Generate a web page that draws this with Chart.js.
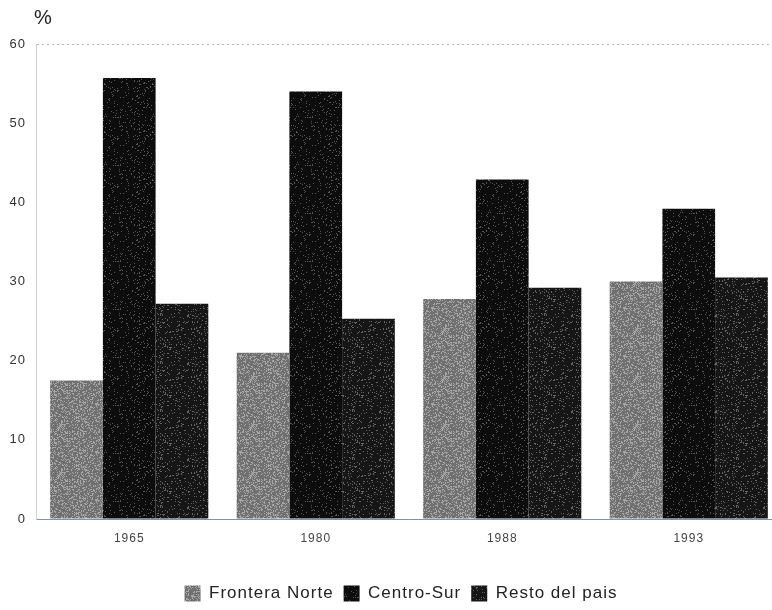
<!DOCTYPE html>
<html>
<head>
<meta charset="utf-8">
<script src="https://cdn.jsdelivr.net/npm/chart.js@4"></script>
<style>
  html, body { margin: 0; padding: 0; background: #fff; overflow: hidden; }
  #wrap { position: relative; width: 782px; height: 610px; }
</style>
</head>
<body>
<div id="wrap"><canvas id="chart"></canvas></div>
<script>
// Data
const years = ['1965', '1980', '1988', '1993'];
const fronteraNorte = [17.5, 21.0, 27.8, 30.0];
const centroSur = [55.7, 54.0, 42.9, 39.2];
const restoPais = [27.2, 25.3, 29.2, 30.5];
const seriesNames = ['Frontera Norte', 'Centro-Sur', 'Resto del pais'];
const yTicks = [0, 10, 20, 30, 40, 50, 60];

// Speckled fill like the photocopied original (seeded, so it looks the same every time)
function speckle(base, dot, density, seed) {
    const c = document.createElement('canvas');
    c.width = 48; c.height = 48;
    const g = c.getContext('2d');
    g.fillStyle = base;
    g.fillRect(0, 0, 48, 48);
    let s = seed;
    const next = () => { s = (s * 1103515245 + 12345) % 2147483648; return s / 2147483648; };
    g.fillStyle = dot;
    for (let i = 0; i < 48 * 48 * density; i++) {
        g.fillRect(Math.floor(next() * 48), Math.floor(next() * 48), 1, 1);
    }
    return g.createPattern(c, 'repeat');
}

const fillNorte = speckle('#707070', '#a5a5a5', 0.35, 7);
const fillCentro = speckle('#0d0d0d', '#555555', 0.08, 11);
const fillResto = speckle('#161616', '#626262', 0.12, 23);

// slightly spaced lettering, as in the typewritten original
const spacing = {
    id: 'spacing',
    beforeUpdate(chart) { chart.ctx.letterSpacing = '1px'; },
    beforeLayout(chart) { chart.ctx.letterSpacing = '1px'; },
    beforeDraw(chart) { chart.ctx.letterSpacing = '1px'; },
    // the legend sits a little right of the canvas centre in the original
    afterLayout(chart) {
        chart.legend.left += 10;
        chart.legend.right += 10;
        chart.legend.top += 2;
        chart.legend.bottom += 2;
    }
};

// "%" label above the y axis
const percentLabel = {
    id: 'percentLabel',
    afterDraw(chart) {
        const ctx = chart.ctx;
        ctx.save();
        ctx.letterSpacing = '0px';
        ctx.font = '20px "Liberation Sans", Arial, sans-serif';
        ctx.fillStyle = '#222';
        ctx.textBaseline = 'middle';
        ctx.fillText('%', 34, 18);
        ctx.restore();
    }
};

new Chart(document.getElementById('chart'), {
    type: 'bar',
    data: {
        labels: years,
        datasets: [{
            label: seriesNames[0],
            data: fronteraNorte,
            backgroundColor: fillNorte,
            borderWidth: 0
        }, {
            label: seriesNames[1],
            data: centroSur,
            backgroundColor: fillCentro,
            borderWidth: 0
        }, {
            label: seriesNames[2],
            data: restoPais,
            backgroundColor: fillResto,
            borderWidth: 0
        }]
    },
    options: {
        responsive: true,
        maintainAspectRatio: false,
        animation: false,
        layout: { padding: { top: 44, bottom: 0, left: 0, right: 0 } },
        datasets: {
            bar: { categoryPercentage: 0.848, barPercentage: 1.0 }
        },
        scales: {
            x: {
                grid: { display: false },
                border: { display: true, color: '#7f93a3', width: 1 },
                ticks: {
                    color: '#444',
                    font: { family: '"Liberation Sans", Arial, sans-serif', size: 12 },
                    padding: 4
                },
                afterFit(scale) { scale.height = 54; }
            },
            y: {
                min: 0,
                max: 60,
                afterBuildTicks(scale) { scale.ticks = yTicks.map(v => ({ value: v })); },
                grid: {
                    drawTicks: false,
                    color: ctx => ctx.tick && ctx.tick.value === 60 ? '#b5b5b5' : 'rgba(0,0,0,0)',
                    lineWidth: 1
                },
                border: { display: true, color: '#d0d0d0', dash: [2, 3] },
                ticks: {
                    color: '#333',
                    font: { family: '"Liberation Sans", Arial, sans-serif', size: 13 },
                    padding: 10
                },
                afterFit(scale) { scale.width = 36; }
            }
        },
        plugins: {
            legend: {
                position: 'bottom',
                labels: {
                    boxWidth: 16,
                    boxHeight: 16,
                    padding: 10,
                    color: '#222',
                    font: { family: '"Liberation Sans", Arial, sans-serif', size: 17 }
                }
            },
            tooltip: { enabled: false }
        }
    },
    plugins: [spacing, percentLabel]
});
</script>
</body>
</html>
